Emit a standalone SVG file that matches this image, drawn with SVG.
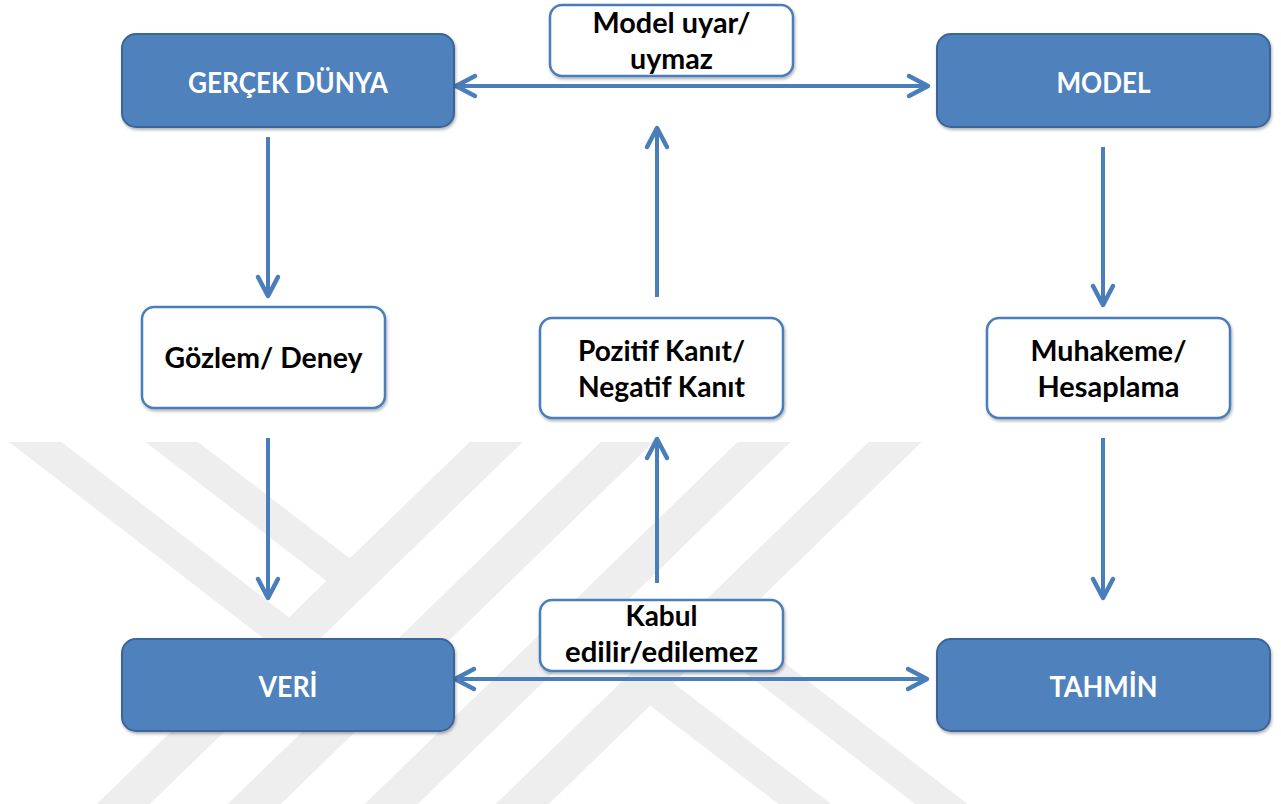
<svg xmlns="http://www.w3.org/2000/svg" width="1281" height="804" viewBox="0 0 1281 804">
<style>
.wm{fill:none;stroke:#eeeeee;stroke-linecap:butt}
.blue{fill:#4F81BD;stroke:#3A6597;stroke-width:2}
.white{fill:#ffffff;stroke:#4A7EBB;stroke-width:2.5}
.con{fill:none;stroke:#4A7EBB;stroke-width:4}
.wt{font-family:Lato,"Liberation Sans",sans-serif;font-weight:700;font-size:28px;fill:#ffffff;text-anchor:middle}
.bt{font-family:Lato,"Liberation Sans",sans-serif;font-weight:700;font-size:28px;fill:#000000;text-anchor:middle}
</style>
<defs>
<clipPath id="wmclip"><rect x="0" y="442" width="1281" height="362"/></clipPath>
<filter id="sh" x="-10%" y="-10%" width="120%" height="135%">
<feDropShadow dx="1" dy="2" stdDeviation="1.5" flood-color="#000000" flood-opacity="0.3"/>
</filter>
<marker id="arr" markerUnits="userSpaceOnUse" markerWidth="30" markerHeight="30" viewBox="-25 -15 30 30" refX="0" refY="0" orient="auto-start-reverse" overflow="visible">
<path d="M-19,-10 L0,0 L-19,10" fill="none" stroke="#4A7EBB" stroke-width="4.5" stroke-linecap="round" stroke-linejoin="round"/>
</marker>
</defs>
<rect x="0" y="0" width="1281" height="804" fill="#ffffff"/>
<g id="watermark" clip-path="url(#wmclip)">
<line class="wm" stroke-width="37" x1="560" y1="380" x2="45" y2="880"/>
<line class="wm" stroke-width="37" x1="691" y1="380" x2="176" y2="880"/>
<line class="wm" stroke-width="37" x1="828" y1="380" x2="313" y2="880"/>
<line class="wm" stroke-width="37" x1="959" y1="380" x2="444" y2="880"/>
<line class="wm" stroke-width="32" x1="-40" y1="384" x2="292" y2="640"/>
<line class="wm" stroke-width="32" x1="100" y1="387" x2="353" y2="581"/>
<line class="wm" stroke-width="32" x1="1040" y1="880" x2="708" y2="624"/>
<line class="wm" stroke-width="32" x1="900" y1="877" x2="647" y2="683"/>
</g>
<g id="connectors">
<line class="con" x1="456" y1="86" x2="928" y2="86" marker-start="url(#arr)" marker-end="url(#arr)"/>
<line class="con" x1="455" y1="679" x2="927" y2="679" marker-start="url(#arr)" marker-end="url(#arr)"/>
<line class="con" x1="268" y1="137" x2="268" y2="296" marker-end="url(#arr)"/>
<line class="con" x1="268" y1="438" x2="268" y2="598" marker-end="url(#arr)"/>
<line class="con" x1="657" y1="297" x2="657" y2="128" marker-end="url(#arr)"/>
<line class="con" x1="657" y1="583" x2="657" y2="439" marker-end="url(#arr)"/>
<line class="con" x1="1103" y1="147" x2="1103" y2="305" marker-end="url(#arr)"/>
<line class="con" x1="1103" y1="438" x2="1103" y2="598" marker-end="url(#arr)"/>
</g>
<g id="gercek-dunya">
<rect class="blue" filter="url(#sh)" x="122" y="34" width="332" height="93" rx="14"/>
<text class="wt" x="288" y="92.5" textLength="200" lengthAdjust="spacingAndGlyphs">GERÇEK DÜNYA</text>
</g>
<g id="model">
<rect class="blue" filter="url(#sh)" x="937" y="34" width="333" height="93" rx="14"/>
<text class="wt" x="1103.5" y="92.5" textLength="94" lengthAdjust="spacingAndGlyphs">MODEL</text>
</g>
<g id="veri">
<rect class="blue" filter="url(#sh)" x="122" y="639" width="332" height="92" rx="14"/>
<text class="wt" x="288" y="697" textLength="59" lengthAdjust="spacingAndGlyphs">VERİ</text>
</g>
<g id="tahmin">
<rect class="blue" filter="url(#sh)" x="937" y="639" width="333" height="92" rx="14"/>
<text class="wt" x="1103.5" y="697" textLength="108" lengthAdjust="spacingAndGlyphs">TAHMİN</text>
</g>
<g id="model-uyar">
<rect class="white" filter="url(#sh)" x="550" y="5" width="243" height="71" rx="12"/>
<text class="bt" x="671.5" y="33" textLength="158" lengthAdjust="spacingAndGlyphs">Model uyar/</text>
<text class="bt" x="671.5" y="68.5" textLength="83" lengthAdjust="spacingAndGlyphs">uymaz</text>
</g>
<g id="gozlem">
<rect class="white" filter="url(#sh)" x="142" y="307" width="243" height="101" rx="12"/>
<text class="bt" x="263.5" y="368" textLength="198" lengthAdjust="spacingAndGlyphs">Gözlem/ Deney</text>
</g>
<g id="pozitif">
<rect class="white" filter="url(#sh)" x="540" y="318" width="243" height="100" rx="12"/>
<text class="bt" x="661.5" y="361" textLength="167" lengthAdjust="spacingAndGlyphs">Pozitif Kanıt/</text>
<text class="bt" x="661.5" y="397" textLength="167" lengthAdjust="spacingAndGlyphs">Negatif Kanıt</text>
</g>
<g id="muhakeme">
<rect class="white" filter="url(#sh)" x="987" y="318" width="243" height="100" rx="12"/>
<text class="bt" x="1108.5" y="361" textLength="156" lengthAdjust="spacingAndGlyphs">Muhakeme/</text>
<text class="bt" x="1108.5" y="397" textLength="142" lengthAdjust="spacingAndGlyphs">Hesaplama</text>
</g>
<g id="kabul">
<rect class="white" filter="url(#sh)" x="540" y="600" width="243" height="71" rx="12"/>
<text class="bt" x="661.5" y="626" textLength="72" lengthAdjust="spacingAndGlyphs">Kabul</text>
<text class="bt" x="661.5" y="662" textLength="193" lengthAdjust="spacingAndGlyphs">edilir/edilemez</text>
</g>
</svg>
